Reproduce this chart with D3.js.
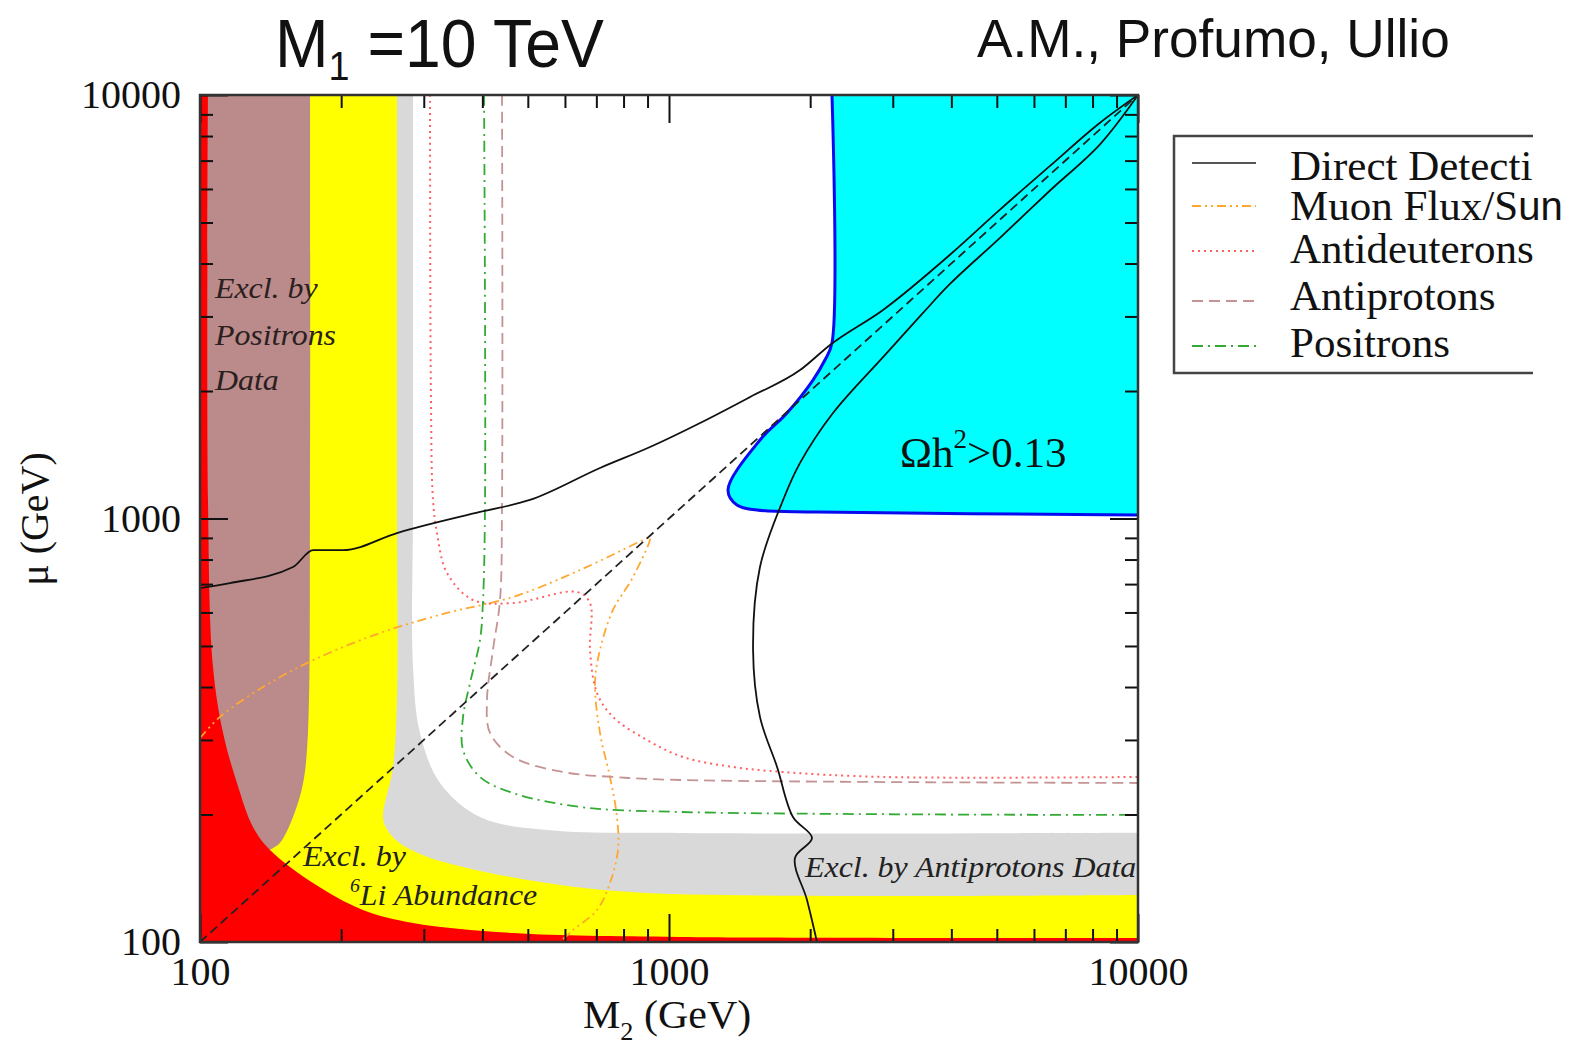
<!DOCTYPE html>
<html><head><meta charset="utf-8">
<script src="https://cdn.jsdelivr.net/npm/d3@7"></script>
<style>body{margin:0;background:#fff;} svg{display:block;}</style>
</head><body>
<svg id="c" width="1573" height="1048"></svg>
<script>
// ---------- data (M2 [GeV], mu [GeV]) ----------
const xTicksMajor = [100, 1000, 10000];
const xTicksMinor = [200,300,400,500,600,700,800,900,2000,3000,4000,5000,6000,7000,8000,9000];
const yTicksMajor = [100, 1000, 10000];
const yTicksMinor = [200,300,400,500,600,700,800,900,2000,3000,4000,5000,6000,7000,8000,9000];

// region boundaries
const redBoundary = [[104,10000],[104,1106],[106.6,446],[112,311.6],[119.9,237.4],[129.7,186.9],[141,164.9],[174.2,137.8],[222.6,119],[284.5,110.9],[464.9,105],[1055,102.8],[10000,102.2]];
const brownBoundary = [[171.6,10000],[171.6,1106],[169.9,311.6],[165.9,237.4],[157.9,197.3],[148,171.3],[141,164.9],[128,150]];
const yellowBoundary = [[263,10000],[263,1106],[263,372.7],[257.9,259],[245.6,197.3],[250,185],[265,172],[300,160],[363.8,150.4],[549.5,137.8],[897.6,130.5],[10000,129.1]];
const grayBoundary = [[284.6,10000],[284.6,1106],[284.6,446],[294.5,311.6],[324.9,237.4],[395.4,197.3],[549.5,183.8],[1055,180.9],[10000,181]];
const cyanBoundary = [[2226,10000],[2226,2597],[2150,2367],[2028,2123],[1785,1775],[1563,1532],[1336,1168],[1396,1076],[1540,1047],[2068,1036],[10000,1019]];

// curves
const directUpper = [[100,685],[115.9,704],[157.9,768],[174.2,842],[201.8,842],[263,924],[395.4,1036],[505.2,1106],[712.6,1316],[911,1475],[1165,1681],[1489,1936],[1903,2241],[2205,2569],[2860,3108],[3972,4195],[5078,5362],[6493,6800],[8299,8600],[10000,10000]];
const directLower = [[10000,10000],[8299,7650],[6493,5950],[5078,4600],[3972,3580],[3480,3057],[2860,2406],[2237,1775],[1903,1353],[1751,1106],[1563,768],[1511,489.3],[1563,340],[1700,259],[1838,197.3],[2018,176],[1856,157.9],[1969,125.7],[2068,100]];
const diagonal = [[100,100],[10000,10000]];
const muonFlux = [[100,303],[110.3,340],[136.2,400],[174.2,463],[242,536.5],[336.3,598.4],[464.9,652.6],[646,755.6],[880.4,889.5],[911,904],[837.9,727.6],[759.6,608.1],[712.6,489.3],[695.3,408.8],[712.6,311.6],[748.4,245.3],[774.6,197.3],[778.5,164.9],[748.4,137.8],[702.3,119],[624.2,106.7],[585.6,100]];
const antideuterons = [[309.3,10000],[310.8,1905],[313.9,1106],[320.1,924],[336.3,743.4],[382.1,642],[464.9,631.6],[636.7,670.7],[678.5,631.6],[678.5,489.3],[702.3,387.2],[759.6,340],[897.6,299.9],[1071,273.4],[1369,259],[1751,252],[2860,245.3],[10000,245.3]];
const antiprotons = [[440.5,10000],[440.5,1106],[436.2,642],[421.4,489.3],[409.2,372.7],[415.3,311.6],[464.9,273.4],[594.3,252],[759.6,245.3],[1055,241.3],[10000,237.4]];
const positrons = [[403.3,10000],[405.3,1106],[401.3,642],[395.4,516.6],[376.5,408.8],[363.8,340],[363.8,284],[395.4,245.3],[464.9,224.8],[646,208.4],[1055,202.8],[10000,199.5]];

const legendLabels = ["Direct Detecti","Muon Flux/S","Antideuterons","Antiprotons","Positrons"];

// ---------- drawing ----------
const svg = d3.select("#c");
const L=200, R=1138, T=95, B=942;
const x = d3.scaleLog().domain([100,10000]).range([L,R]);
const y = d3.scaleLog().domain([100,10000]).range([B,T]);
const SERIF = "'Liberation Serif','Times New Roman',serif";
const SANS = "'Liberation Sans',Arial,sans-serif";

svg.append("defs").append("clipPath").attr("id","plot")
  .append("rect").attr("x",L).attr("y",T).attr("width",R-L).attr("height",B-T);
svg.select("defs").append("clipPath").attr("id","leg")
  .append("rect").attr("x",1150).attr("y",120).attr("width",1533-1150).attr("height",280);

const smooth = d3.line().x(d=>x(d[0])).y(d=>y(d[1])).curve(d3.curveCatmullRom.alpha(0.5));
const mono = d3.line().x(d=>x(d[0])).y(d=>y(d[1])).curve(d3.curveMonotoneX);
const straight = d3.line().x(d=>x(d[0])).y(d=>y(d[1]));
function areaPath(boundary, corners){
  return smooth(boundary) + corners.map(c=>`L${x(c[0])},${y(c[1])}`).join("") + "Z";
}
const plot = svg.append("g").attr("clip-path","url(#plot)");

plot.append("path").attr("d", areaPath(grayBoundary, [[10000,100],[100,100],[100,10000]])).attr("fill","#d9d9d9");
plot.append("path").attr("d", areaPath(yellowBoundary, [[10000,100],[100,100],[100,10000]])).attr("fill","#ffff00");
plot.append("path").attr("d", areaPath(brownBoundary, [[100,150],[100,10000]])).attr("fill","#bb8a8a");
plot.append("path").attr("d", areaPath(redBoundary, [[10000,100],[100,100],[100,10000]])).attr("fill","#ff0000");
plot.append("path").attr("d", areaPath(cyanBoundary, [[10000,10000]])).attr("fill","#00ffff");
plot.append("path").attr("d", smooth(cyanBoundary)).attr("fill","none").attr("stroke","#0a0af0").attr("stroke-width",3);

const styles = {
  direct: {stroke:"#111", dash:null, w:1.8},
  muon: {stroke:"#ffa830", dash:"9,4,2,4,2,4", w:1.8},
  deut: {stroke:"#ff6060", dash:"2,4", w:2},
  prot: {stroke:"#c49494", dash:"11,6", w:1.8},
  pos: {stroke:"#33aa33", dash:"11,5,2,5", w:1.8}
};
function drawCurve(data, s, gen){
  plot.append("path").attr("d",(gen||smooth)(data)).attr("fill","none")
    .attr("stroke",s.stroke).attr("stroke-width",s.w).attr("stroke-dasharray",s.dash);
}
drawCurve(muonFlux, styles.muon);
drawCurve(antideuterons, styles.deut);
drawCurve(antiprotons, styles.prot);
drawCurve(positrons, styles.pos);
drawCurve(directUpper, styles.direct, mono);
drawCurve(directLower, styles.direct);
drawCurve(diagonal, {stroke:"#222", dash:"9,5", w:1.8}, straight);

// annotations
function stext(txt, px, py, size, opts={}){
  const t = svg.append("text").attr("transform",`translate(${px},${py}) scale(${opts.sx||1},1)`)
    .attr("font-family", opts.family||SERIF).attr("font-size",size)
    .attr("font-style", opts.italic?"italic":"normal").attr("fill", opts.fill||"#111")
    .attr("text-anchor", opts.anchor||"start");
  if (typeof txt === "string") t.text(txt);
  return t;
}
stext("Excl. by", x(107.6), y(3316), 29, {italic:true, sx:1.1, fill:"#2a2020"});
stext("Positrons", x(107.6), y(2569), 29, {italic:true, sx:1.1, fill:"#2a2020"});
stext("Data", x(107.6), y(2011), 29, {italic:true, sx:1.1, fill:"#2a2020"});
stext("Excl. by", x(165.9), y(151.2), 29, {italic:true, sx:1.1, fill:"#222"});
{
  const t = stext(null, x(208.8), y(122.3), 29, {italic:true, sx:1.1, fill:"#222"});
  t.append("tspan").attr("font-size",18).attr("dy",-13).text("6");
  t.append("tspan").attr("dy",13).text("Li Abundance");
}
stext("Excl. by Antiprotons Data", x(1950), y(142.4), 29, {italic:true, sx:1.1, fill:"#222"});
{
  const t = stext(null, x(3108), y(1323), 43, {fill:"#111"});
  t.append("tspan").text("\u03A9h");
  t.append("tspan").attr("font-size",27).attr("dy",-19).text("2");
  t.append("tspan").attr("dy",19).text(">0.13");
}

// axes / ticks
function styleAxis(g){
  g.select(".domain").remove();
  g.selectAll(".tick line").attr("stroke","#111").attr("stroke-width",2);
  g.selectAll("text").attr("font-family",SERIF).attr("font-size",40).attr("fill","#111");
}
svg.append("g").attr("transform",`translate(0,${B})`)
  .call(d3.axisBottom(x).tickValues(xTicksMajor).tickSizeInner(-28).tickSizeOuter(0).tickPadding(15).tickFormat(d3.format("d"))).call(styleAxis);
svg.append("g").attr("transform",`translate(0,${B})`)
  .call(d3.axisBottom(x).tickValues(xTicksMinor).tickSizeInner(-13).tickSizeOuter(0).tickFormat("")).call(styleAxis);
svg.append("g").attr("transform",`translate(0,${T})`)
  .call(d3.axisTop(x).tickValues(xTicksMajor).tickSizeInner(-28).tickSizeOuter(0).tickFormat("")).call(styleAxis);
svg.append("g").attr("transform",`translate(0,${T})`)
  .call(d3.axisTop(x).tickValues(xTicksMinor).tickSizeInner(-13).tickSizeOuter(0).tickFormat("")).call(styleAxis);
svg.append("g").attr("transform",`translate(${L},0)`)
  .call(d3.axisLeft(y).tickValues(yTicksMajor).tickSizeInner(-28).tickSizeOuter(0).tickPadding(19).tickFormat(d3.format("d"))).call(styleAxis);
svg.append("g").attr("transform",`translate(${L},0)`)
  .call(d3.axisLeft(y).tickValues(yTicksMinor).tickSizeInner(-13).tickSizeOuter(0).tickFormat("")).call(styleAxis);
svg.append("g").attr("transform",`translate(${R},0)`)
  .call(d3.axisRight(y).tickValues(yTicksMajor).tickSizeInner(-28).tickSizeOuter(0).tickFormat("")).call(styleAxis);
svg.append("g").attr("transform",`translate(${R},0)`)
  .call(d3.axisRight(y).tickValues(yTicksMinor).tickSizeInner(-13).tickSizeOuter(0).tickFormat("")).call(styleAxis);

// frame
svg.append("rect").attr("x",L).attr("y",T).attr("width",R-L).attr("height",B-T)
  .attr("fill","none").attr("stroke","#333").attr("stroke-width",2.5);

// axis titles
{
  const t = stext(null, 583, 1028, 40, {sx:1.05});
  t.append("tspan").text("M");
  t.append("tspan").attr("font-size",25).attr("dy",12).text("2");
  t.append("tspan").attr("dy",-12).text(" (GeV)");
}
svg.append("text").attr("transform","translate(48,519) rotate(-90)").attr("text-anchor","middle")
  .attr("font-family",SERIF).attr("font-size",40).attr("fill","#111").text("\u03BC (GeV)");

// titles
{
  const t = svg.append("text").attr("transform","translate(275,67) scale(0.945,1)")
    .attr("font-family",SANS).attr("font-size",68).attr("fill","#111");
  t.append("tspan").text("M");
  t.append("tspan").attr("font-size",40).attr("dy",13).text("1");
  t.append("tspan").attr("dy",-13).text(" =10 TeV");
}
svg.append("text").attr("transform","translate(977,57) scale(0.985,1)")
  .attr("font-family",SANS).attr("font-size",54).attr("fill","#111").text("A.M., Profumo, Ullio");

// legend
const leg = svg.append("g").attr("clip-path","url(#leg)");
leg.append("rect").attr("x",1174).attr("y",136).attr("width",420).attr("height",237)
  .attr("fill","#fff").attr("stroke","#444").attr("stroke-width",2.5);
const legStyles = [styles.direct, styles.muon, styles.deut, styles.prot, styles.pos];
const legLineY = [163,206,251,301,346];
const legTextY = [180,220,263,310,357];
legendLabels.forEach((lab,i)=>{
  const s = legStyles[i];
  leg.append("line").attr("x1",1192).attr("x2",1256).attr("y1",legLineY[i]).attr("y2",legLineY[i])
    .attr("stroke", i===0 ? "#555" : s.stroke).attr("stroke-width",2).attr("stroke-dasharray",s.dash);
  if (i === 1) return;
  leg.append("text").attr("x",1290).attr("y",legTextY[i]).attr("font-family",SERIF)
    .attr("font-size",43).attr("fill","#111").text(lab);
});
{
  const t = svg.append("text").attr("x",1290).attr("y",legTextY[1]).attr("font-family",SERIF)
    .attr("font-size",43).attr("fill","#111");
  t.append("tspan").text(legendLabels[1]);
  t.append("tspan").attr("font-family",SANS).attr("font-size",40).text("un");
}
</script>
</body></html>
